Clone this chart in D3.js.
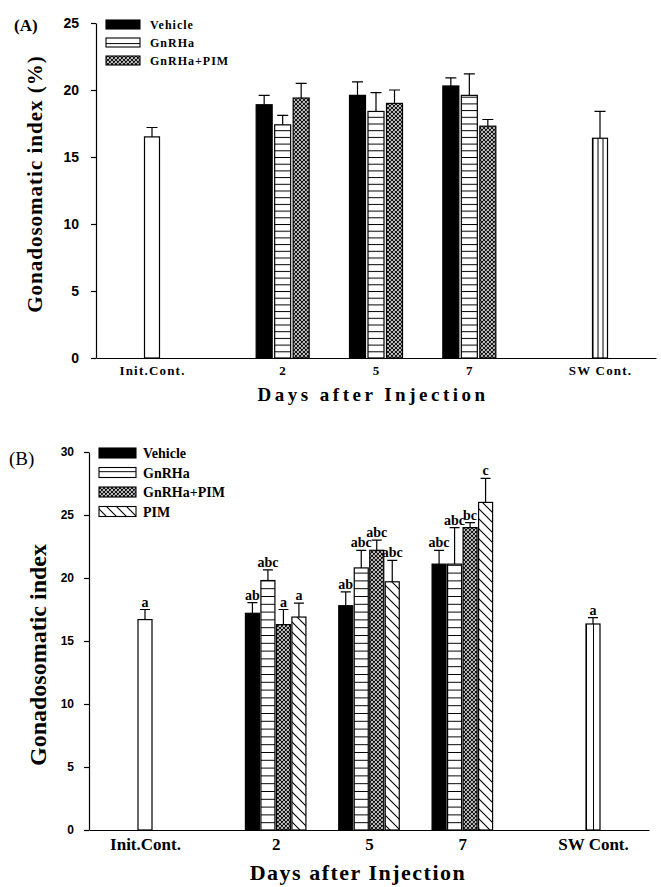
<!DOCTYPE html>
<html>
<head>
<meta charset="utf-8">
<script src="https://cdn.jsdelivr.net/npm/d3@7"></script>
<style>
  body { margin: 0; background: #fff; }
  svg { display: block; }
</style>
</head>
<body>
<svg></svg>
<script>
const width = 661;
const height = 887;

// x categories and where they sit on the axis (in "slot" units)
const categories = ["Init.Cont.", "2", "5", "7", "SW Cont."];
const slots = [0, 1.4, 2.4, 3.4, 4.8];
const days = ["2", "5", "7"];

// panel A
const seriesA = ["Vehicle", "GnRHa", "GnRHa+PIM"];
const meanA = [[18.9, 19.6, 20.3], [17.4, 18.4, 19.6], [19.4, 19.0, 17.3]];
const errA = [[0.7, 1.0, 0.6], [0.7, 1.4, 1.6], [1.1, 1.0, 0.5]];
const ctrlMeanA = [16.5, 16.4];
const ctrlErrA = [0.7, 2.0];
const ticksA = [0, 5, 10, 15, 20, 25];

// panel B
const seriesB = ["Vehicle", "GnRHa", "GnRHa+PIM", "PIM"];
const meanB = [[17.2, 17.8, 21.1], [19.8, 20.8, 21.1], [16.3, 22.2, 24.0], [16.9, 19.7, 26.0]];
const errB = [[0.85, 1.1, 1.1], [0.85, 1.4, 2.9], [1.2, 0.8, 0.4], [1.1, 1.7, 1.9]];
const lettersB = [["ab", "ab", "abc"], ["abc", "abc", "abc"], ["a", "abc", "bc"], ["a", "abc", "c"]];
const ctrlMeanB = [16.7, 16.35];
const ctrlErrB = [0.8, 0.5];
const ctrlLettersB = ["a", "a"];
const ticksB = [0, 5, 10, 15, 20, 25, 30];

const serif = "'Liberation Serif', 'Times New Roman', serif";
const sans = "'Liberation Sans', Arial, sans-serif";

const svg = d3.select("svg").attr("width", width).attr("height", height);
const defs = svg.append("defs");

function hlines(id, step, y0) {
  const p = defs.append("pattern").attr("id", id)
    .attr("patternUnits", "userSpaceOnUse")
    .attr("width", 20).attr("height", step).attr("y", y0);
  p.append("rect").attr("width", 20).attr("height", step).attr("fill", "#fff");
  p.append("line").attr("x1", 0).attr("x2", 20).attr("y1", 0.5).attr("y2", 0.5)
    .attr("stroke", "#000").attr("stroke-width", 1);
}
function vlines(id, step, x0) {
  const p = defs.append("pattern").attr("id", id)
    .attr("patternUnits", "userSpaceOnUse")
    .attr("width", step).attr("height", 20).attr("x", x0);
  p.append("rect").attr("width", step).attr("height", 20).attr("fill", "#fff");
  p.append("line").attr("x1", 0.5).attr("x2", 0.5).attr("y1", 0).attr("y2", 20)
    .attr("stroke", "#000").attr("stroke-width", 1);
}
function cross(id) {
  const p = defs.append("pattern").attr("id", id)
    .attr("patternUnits", "userSpaceOnUse").attr("width", 4).attr("height", 4);
  p.append("rect").attr("width", 4).attr("height", 4).attr("fill", "#fff");
  p.append("path").attr("d", "M-1,-1L5,5M-1,5L5,-1M-1,3L1,5M3,-1L5,1M-1,1L1,-1M3,5L5,3")
    .attr("stroke", "#111").attr("stroke-width", 1.2);
}
function diag(id) {
  const p = defs.append("pattern").attr("id", id)
    .attr("patternUnits", "userSpaceOnUse").attr("width", 10).attr("height", 10);
  p.append("rect").attr("width", 10).attr("height", 10).attr("fill", "#fff");
  p.append("path").attr("d", "M-1,-1L11,11M-1,9L1,11M9,-1L11,1")
    .attr("stroke", "#000").attr("stroke-width", 1.1);
}

function panel(cfg) {
  const x = d3.scaleLinear().domain([-0.6, 5.4]).range([cfg.left, cfg.right]);
  const y = d3.scaleLinear().domain([0, cfg.ymax]).range([cfg.bottom, cfg.top]);
  const g = svg.append("g");

  // grouped bars
  const n = cfg.series.length;
  const bars = [];
  cfg.series.forEach((s, i) => {
    days.forEach((d, j) => {
      const cx = x(slots[j + 1]) + (i - (n - 1) / 2) * cfg.stride;
      bars.push({ cx, w: cfg.barW, v: cfg.mean[i][j], e: cfg.err[i][j],
        fill: cfg.fills[i], label: cfg.letters ? cfg.letters[i][j] : null });
    });
  });
  // control bars
  [0, 4].forEach((k, m) => {
    bars.push({ cx: x(slots[k]), w: cfg.ctrlW, v: cfg.ctrlMean[m], e: cfg.ctrlErr[m],
      fill: m === 0 ? "#fff" : "url(#" + cfg.swId + ")",
      label: cfg.ctrlLetters ? cfg.ctrlLetters[m] : null });
  });
  vlines(cfg.swId, cfg.swStep, x(slots[4]) - cfg.ctrlW / 2);

  // error bars (upper only)
  g.selectAll(".err").data(bars).join("path")
    .attr("d", d => `M${d.cx},${y(d.v)}V${y(d.v + d.e)}M${d.cx - cfg.cap / 2},${y(d.v + d.e)}H${d.cx + cfg.cap / 2}`)
    .attr("stroke", "#000").attr("stroke-width", 1.2).attr("fill", "none");

  g.selectAll(".bar").data(bars).join("rect")
    .attr("x", d => d.cx - d.w / 2)
    .attr("y", d => y(d.v))
    .attr("width", d => d.w)
    .attr("height", d => y(0) - y(d.v))
    .attr("fill", d => d.fill)
    .attr("stroke", "#000").attr("stroke-width", 1.2);

  g.selectAll(".lab").data(bars.filter(d => d.label)).join("text")
    .attr("x", d => d.cx)
    .attr("y", d => y(d.v + d.e) - 3)
    .attr("text-anchor", "middle")
    .style("font-family", serif).style("font-weight", "bold")
    .style("font-size", "14px")
    .text(d => d.label);

  // axes
  const ya = g.append("g").attr("transform", `translate(${cfg.left},0)`)
    .call(d3.axisLeft(y).tickValues(cfg.ticks).tickSize(5).tickSizeOuter(0).tickPadding(cfg.tickPad));
  ya.selectAll("text").style("font-family", sans).style("font-weight", "bold")
    .style("font-size", cfg.yTickSize + "px").attr("fill", "#000");
  ya.selectAll("line, path").attr("stroke", "#000").attr("stroke-width", 1.2);

  const xa = g.append("g").attr("transform", `translate(0,${y(0)})`)
    .call(d3.axisBottom(x).tickValues(slots).tickFormat((d, i) => categories[i])
      .tickSize(0).tickSizeOuter(0).tickPadding(8));
  xa.select(".domain").attr("stroke", "#000").attr("stroke-width", 1.2);
  xa.selectAll("text").style("font-family", serif).style("font-weight", "bold")
    .style("font-size", cfg.xTickSize + "px").style("letter-spacing", cfg.xTickLs + "px")
    .attr("fill", "#000");

  // legend
  const lg = g.append("g");
  cfg.series.forEach((s, i) => {
    const yy = cfg.legY + i * cfg.legStep;
    lg.append("rect").attr("x", cfg.legX).attr("y", yy)
      .attr("width", cfg.legW).attr("height", cfg.legH)
      .attr("fill", cfg.fills[i]).attr("stroke", "#000").attr("stroke-width", 1.1);
    lg.append("text").attr("x", cfg.legX + cfg.legW + cfg.legGap).attr("y", yy + cfg.legH)
      .style("font-family", serif).style("font-weight", "bold")
      .style("font-size", cfg.legSize + "px").style("letter-spacing", cfg.legLs + "px")
      .text(s);
  });

  // titles
  g.append("text")
    .attr("transform", `translate(${cfg.yTitleX},${cfg.yTitleY}) rotate(-90)`)
    .attr("text-anchor", "middle")
    .style("font-family", serif).style("font-weight", "bold")
    .style("font-size", cfg.yTitleSize + "px").style("letter-spacing", cfg.yTitleLs + "px")
    .text(cfg.yTitle);
  g.append("text").attr("x", cfg.xTitleX).attr("y", cfg.xTitleY)
    .attr("text-anchor", "middle")
    .style("font-family", serif).style("font-weight", "bold")
    .style("font-size", cfg.xTitleSize + "px").style("letter-spacing", cfg.xTitleLs + "px")
    .text("Days after Injection");
  g.append("text").attr("x", cfg.tagX).attr("y", cfg.tagY)
    .style("font-family", serif).style("font-weight", cfg.tagWeight)
    .style("font-size", cfg.tagSize + "px")
    .text(cfg.tag);
}

hlines("hA", 6.7, 358);
hlines("hB", 7.8, 830);
cross("crossP");
diag("diagP");

panel({
  tag: "(A)", tagX: 14, tagY: 31, tagSize: 17, tagWeight: "bold",
  series: seriesA, mean: meanA, err: errA,
  ctrlMean: ctrlMeanA, ctrlErr: ctrlErrA,
  fills: ["#000", "url(#hA)", "url(#crossP)"],
  swId: "swA", swStep: 5,
  ymax: 25, ticks: ticksA, top: 23, bottom: 358, left: 96, right: 656,
  barW: 16, stride: 18.5, ctrlW: 15, cap: 11,
  tickPad: 12, yTickSize: 14, xTickSize: 13, xTickLs: 1.2,
  legX: 106, legY: 20, legStep: 18, legW: 34, legH: 9, legGap: 10, legSize: 12, legLs: 1,
  yTitle: "Gonadosomatic index (%)", yTitleX: 42, yTitleY: 184, yTitleSize: 21, yTitleLs: 1,
  xTitleX: 373, xTitleY: 401, xTitleSize: 19, xTitleLs: 3.5
});

panel({
  tag: "(B)", tagX: 9, tagY: 465, tagSize: 19, tagWeight: "normal",
  series: seriesB, mean: meanB, err: errB, letters: lettersB,
  ctrlMean: ctrlMeanB, ctrlErr: ctrlErrB, ctrlLetters: ctrlLettersB,
  fills: ["#000", "url(#hB)", "url(#crossP)", "url(#diagP)"],
  swId: "swB", swStep: 7,
  ymax: 30, ticks: ticksB, top: 452, bottom: 830, left: 89, right: 649,
  barW: 14, stride: 15.5, ctrlW: 14, cap: 10,
  tickPad: 10, yTickSize: 12, xTickSize: 17, xTickLs: 0,
  legX: 99, legY: 448, legStep: 19.5, legW: 37, legH: 10, legGap: 7, legSize: 14, legLs: 0,
  yTitle: "Gonadosomatic index", yTitleX: 46, yTitleY: 655, yTitleSize: 24, yTitleLs: 0,
  xTitleX: 358, xTitleY: 880, xTitleSize: 22, xTitleLs: 1.5
});
</script>
</body>
</html>
